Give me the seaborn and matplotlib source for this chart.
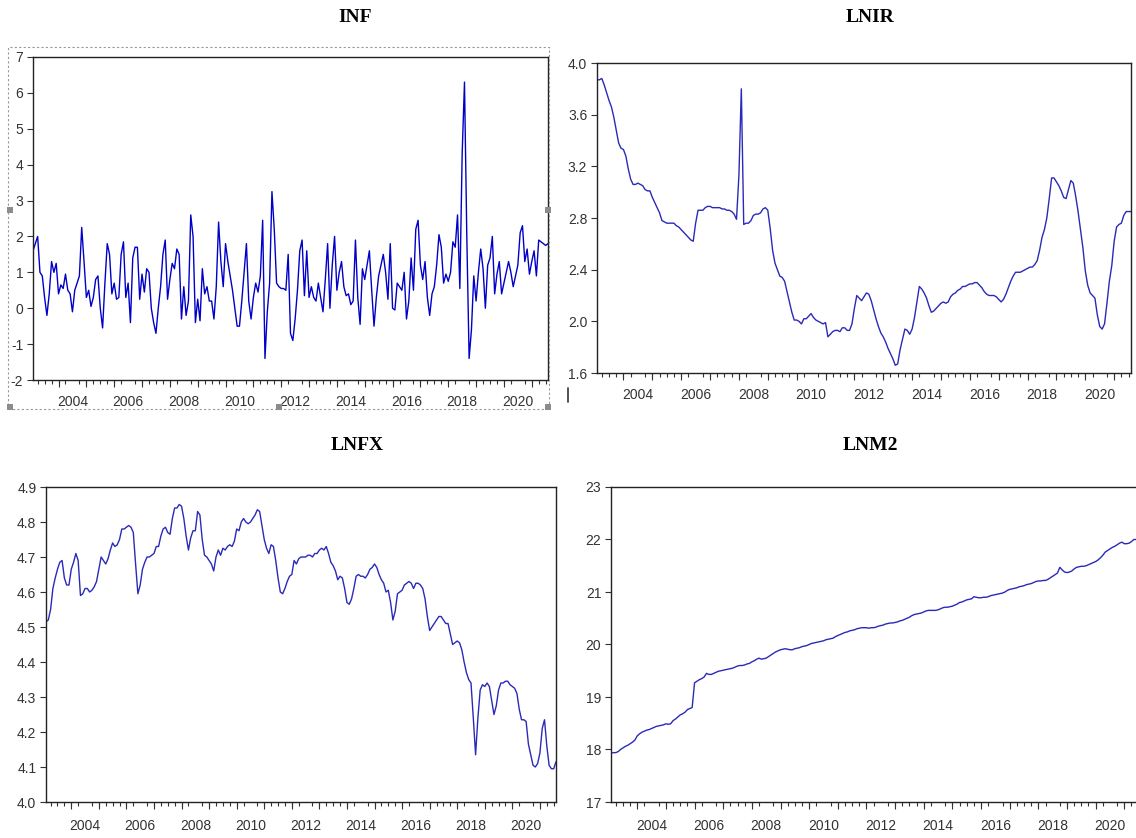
import numpy as np
import pandas as pd
import matplotlib
matplotlib.use('Agg')
import matplotlib.pyplot as plt
from matplotlib.patches import Rectangle
from matplotlib.lines import Line2D
from matplotlib.ticker import FixedLocator, NullFormatter
import seaborn as sns

# monthly observations, first one is 2003M2
start_year = 2003 + 1 / 12

inf = [1.6, 1.8, 2.0, 1.0, 0.9, 0.3, -0.2, 0.4, 1.3, 1.0, 1.25,
       0.4, 0.65, 0.55, 0.95, 0.5, 0.4, -0.1, 0.5, 0.7, 0.9, 2.25, 1.3,
       0.3, 0.5, 0.05, 0.3, 0.8, 0.9, 0.0, -0.55, 0.7, 1.8, 1.5, 0.4,
       0.7, 0.25, 0.3, 1.5, 1.85, 0.3, 0.7, -0.4, 1.4, 1.7, 1.7, 0.25,
       0.95, 0.45, 1.1, 1.0, 0.0, -0.4, -0.7, 0.0, 0.6, 1.5, 1.9, 0.25,
       0.8, 1.25, 1.1, 1.65, 1.5, -0.3, 0.6, -0.2, 0.2, 2.6, 2.0, -0.4,
       0.25, -0.35, 1.1, 0.4, 0.6, 0.2, 0.2, -0.3, 0.6, 2.4, 1.3, 0.6,
       1.8, 1.3, 0.9, 0.5, 0.0, -0.5, -0.5, 0.2, 1.0, 1.8, 0.2, -0.3,
       0.3, 0.7, 0.45, 0.9, 2.45, -1.4, -0.1, 0.7, 3.25, 2.2, 0.7, 0.6,
       0.55, 0.55, 0.5, 1.5, -0.7, -0.9, -0.3, 0.5, 1.6, 1.9, 0.35, 1.6,
       0.3, 0.6, 0.3, 0.2, 0.7, 0.3, -0.1, 0.8, 1.8, 0.0, 1.2, 2.0,
       0.5, 1.0, 1.3, 0.6, 0.35, 0.4, 0.1, 0.2, 1.9, 0.3, -0.45, 1.1,
       0.8, 1.2, 1.6, 0.5, -0.5, 0.3, 0.9, 1.2, 1.5, 1.0, 0.25, 1.8,
       0.0, -0.05, 0.7, 0.6, 0.5, 1.0, -0.3, 0.2, 1.4, 0.5, 2.2, 2.45,
       1.2, 0.8, 1.3, 0.3, -0.2, 0.4, 0.6, 1.2, 2.05, 1.7, 0.7, 0.95,
       0.75, 1.0, 1.85, 1.7, 2.6, 0.55, 4.3, 6.3, 2.0, -1.4, -0.6, 0.9,
       0.2, 1.0, 1.65, 1.1, 0.0, 1.2, 1.4, 2.0, 0.4, 0.95, 1.3, 0.4,
       0.7, 1.0, 1.3, 1.0, 0.6, 0.9, 1.2, 2.1, 2.3, 1.3, 1.65, 0.95,
       1.3, 1.6, 0.9, 1.9, 1.85, 1.8, 1.75, 1.8]

lnir = [3.87, 3.87, 3.88, 3.83, 3.77, 3.71, 3.66, 3.58, 3.48, 3.38, 3.34,
        3.33, 3.28, 3.18, 3.10, 3.06, 3.06, 3.07, 3.06, 3.05, 3.02, 3.01, 3.01,
        2.96, 2.92, 2.88, 2.84, 2.78, 2.77, 2.76, 2.76, 2.76, 2.76, 2.74, 2.73,
        2.71, 2.69, 2.67, 2.65, 2.63, 2.62, 2.76, 2.86, 2.86, 2.86, 2.88, 2.89,
        2.89, 2.88, 2.88, 2.88, 2.88, 2.87, 2.87, 2.86, 2.86, 2.85, 2.83, 2.79,
        3.13, 3.80, 2.75, 2.76, 2.76, 2.78, 2.82, 2.83, 2.83, 2.84, 2.87, 2.88,
        2.86, 2.72, 2.55, 2.45, 2.40, 2.35, 2.34, 2.31, 2.23, 2.15, 2.07, 2.01,
        2.01, 2.00, 1.98, 2.02, 2.02, 2.04, 2.06, 2.03, 2.01, 2.00, 1.99, 1.98,
        1.99, 1.88, 1.90, 1.92, 1.93, 1.93, 1.92, 1.95, 1.95, 1.93, 1.93, 1.98,
        2.10, 2.20, 2.18, 2.16, 2.19, 2.22, 2.21, 2.16, 2.09, 2.02, 1.96, 1.91,
        1.88, 1.84, 1.79, 1.75, 1.71, 1.66, 1.67, 1.78, 1.86, 1.94, 1.93, 1.90,
        1.94, 2.03, 2.15, 2.27, 2.25, 2.22, 2.18, 2.12, 2.07, 2.08, 2.10, 2.12,
        2.14, 2.15, 2.14, 2.15, 2.19, 2.21, 2.22, 2.24, 2.25, 2.27, 2.27, 2.28,
        2.29, 2.29, 2.30, 2.30, 2.28, 2.26, 2.23, 2.21, 2.20, 2.20, 2.20, 2.19,
        2.17, 2.15, 2.17, 2.21, 2.26, 2.31, 2.35, 2.38, 2.38, 2.38, 2.39, 2.40,
        2.41, 2.42, 2.42, 2.44, 2.47, 2.55, 2.65, 2.71, 2.80, 2.95, 3.11, 3.11,
        3.08, 3.05, 3.01, 2.96, 2.95, 3.02, 3.09, 3.07, 2.97, 2.85, 2.71, 2.57,
        2.39, 2.28, 2.22, 2.20, 2.18, 2.05, 1.96, 1.94, 1.98, 2.14, 2.31, 2.43,
        2.62, 2.73, 2.75, 2.76, 2.82, 2.85, 2.85, 2.85]

lnfx = [4.515, 4.52, 4.55, 4.61, 4.64, 4.665, 4.685, 4.69, 4.64, 4.62, 4.62,
        4.665, 4.685, 4.71, 4.69, 4.59, 4.595, 4.61, 4.61, 4.60, 4.605, 4.615, 4.63,
        4.665, 4.70, 4.69, 4.68, 4.695, 4.72, 4.74, 4.73, 4.735, 4.75, 4.78, 4.78,
        4.785, 4.79, 4.785, 4.77, 4.68, 4.595, 4.62, 4.665, 4.685, 4.70, 4.70, 4.705,
        4.71, 4.73, 4.73, 4.76, 4.78, 4.785, 4.77, 4.765, 4.81, 4.84, 4.84, 4.85,
        4.845, 4.81, 4.76, 4.72, 4.755, 4.775, 4.775, 4.83, 4.82, 4.75, 4.705, 4.70,
        4.69, 4.68, 4.66, 4.70, 4.72, 4.705, 4.725, 4.72, 4.73, 4.735, 4.73, 4.745,
        4.78, 4.775, 4.80, 4.81, 4.80, 4.795, 4.80, 4.81, 4.82, 4.835, 4.83, 4.79,
        4.75, 4.725, 4.71, 4.735, 4.73, 4.69, 4.64, 4.60, 4.595, 4.61, 4.63, 4.645,
        4.65, 4.69, 4.68, 4.695, 4.70, 4.70, 4.70, 4.705, 4.705, 4.70, 4.71, 4.71,
        4.72, 4.725, 4.72, 4.73, 4.71, 4.685, 4.675, 4.66, 4.635, 4.645, 4.64, 4.61,
        4.57, 4.565, 4.58, 4.61, 4.645, 4.65, 4.645, 4.645, 4.64, 4.65, 4.665, 4.67,
        4.68, 4.67, 4.65, 4.635, 4.625, 4.60, 4.605, 4.57, 4.52, 4.545, 4.595, 4.60,
        4.605, 4.62, 4.625, 4.63, 4.625, 4.61, 4.625, 4.625, 4.62, 4.61, 4.58, 4.53,
        4.49, 4.50, 4.51, 4.52, 4.53, 4.53, 4.52, 4.51, 4.51, 4.48, 4.45, 4.455,
        4.46, 4.455, 4.435, 4.40, 4.37, 4.35, 4.34, 4.24, 4.135, 4.24, 4.32, 4.335,
        4.33, 4.34, 4.33, 4.29, 4.25, 4.275, 4.32, 4.34, 4.34, 4.345, 4.345, 4.335,
        4.33, 4.325, 4.31, 4.265, 4.235, 4.235, 4.23, 4.165, 4.135, 4.105, 4.10, 4.11,
        4.14, 4.21, 4.235, 4.16, 4.105, 4.095, 4.095, 4.115]

lnm2 = [17.93, 17.94, 17.94, 17.96, 18.00, 18.03, 18.06, 18.08, 18.11, 18.14, 18.18,
        18.26, 18.30, 18.33, 18.35, 18.37, 18.38, 18.40, 18.42, 18.44, 18.45, 18.46, 18.47,
        18.49, 18.48, 18.49, 18.55, 18.58, 18.62, 18.66, 18.68, 18.71, 18.76, 18.78, 18.80,
        19.27, 19.30, 19.33, 19.35, 19.38, 19.45, 19.43, 19.43, 19.45, 19.47, 19.49, 19.50,
        19.51, 19.52, 19.53, 19.54, 19.55, 19.57, 19.59, 19.60, 19.60, 19.61, 19.63, 19.64,
        19.67, 19.69, 19.72, 19.74, 19.72, 19.73, 19.74, 19.77, 19.80, 19.83, 19.86, 19.88,
        19.90, 19.91, 19.92, 19.91, 19.90, 19.90, 19.92, 19.93, 19.94, 19.96, 19.97, 19.98,
        20.00, 20.02, 20.03, 20.04, 20.05, 20.06, 20.07, 20.09, 20.10, 20.11, 20.12, 20.15,
        20.17, 20.19, 20.21, 20.23, 20.24, 20.26, 20.27, 20.28, 20.30, 20.31, 20.32, 20.32,
        20.32, 20.31, 20.32, 20.32, 20.33, 20.35, 20.36, 20.37, 20.39, 20.40, 20.41, 20.41,
        20.42, 20.43, 20.45, 20.46, 20.48, 20.50, 20.52, 20.55, 20.57, 20.58, 20.59, 20.60,
        20.62, 20.64, 20.65, 20.65, 20.65, 20.65, 20.66, 20.68, 20.70, 20.71, 20.71, 20.72,
        20.73, 20.75, 20.77, 20.80, 20.81, 20.83, 20.85, 20.86, 20.87, 20.91, 20.90, 20.89,
        20.89, 20.90, 20.90, 20.91, 20.93, 20.94, 20.95, 20.96, 20.97, 20.98, 21.00, 21.03,
        21.05, 21.06, 21.07, 21.08, 21.10, 21.11, 21.12, 21.14, 21.15, 21.16, 21.18, 21.20,
        21.21, 21.21, 21.22, 21.22, 21.24, 21.27, 21.30, 21.33, 21.36, 21.47, 21.42, 21.38,
        21.37, 21.38, 21.40, 21.44, 21.47, 21.48, 21.49, 21.49, 21.50, 21.52, 21.54, 21.56,
        21.58, 21.61, 21.65, 21.70, 21.76, 21.79, 21.82, 21.85, 21.87, 21.90, 21.93, 21.95,
        21.92, 21.92, 21.93, 21.96, 22.00, 22.00, 22.01, 22.02]

year_labels = [2004, 2006, 2008, 2010, 2012, 2014, 2016, 2018, 2020]
inf_ticks = [-2, -1, 0, 1, 2, 3, 4, 5, 6, 7]
lnir_ticks = [1.6, 2.0, 2.4, 2.8, 3.2, 3.6, 4.0]
lnfx_ticks = [4.0, 4.1, 4.2, 4.3, 4.4, 4.5, 4.6, 4.7, 4.8, 4.9]
lnm2_ticks = [17, 18, 19, 20, 21, 22, 23]

sns.set_theme(style="white")
plt.rcParams['font.family'] = ['Liberation Sans', 'DejaVu Sans']
plt.rcParams['axes.unicode_minus'] = False

W, H = 1136, 838
fig = plt.figure(figsize=(W / 100, H / 100), dpi=100)
fig.patch.set_facecolor('white')


def px_axes(left, top, right, bottom):
    return fig.add_axes([left / W, 1 - bottom / H, (right - left) / W, (bottom - top) / H])


n = len(lnir)
x_end = start_year + (n - 1) / 12


def draw_panel(ax, values, yticks, fmt, color, xpad):
    x = start_year + np.arange(len(values)) / 12
    df = pd.DataFrame({'date': x, 'value': values})
    sns.lineplot(data=df, x='date', y='value', ax=ax, color=color, linewidth=1.0)
    ax.set_xlim(start_year, x_end)
    ax.set_ylim(yticks[0], yticks[-1])
    ax.set_xlabel('')
    ax.set_ylabel('')
    ax.set_yticks(yticks)
    ax.set_yticklabels([fmt.format(t) for t in yticks])
    # year labels centred between year ticks
    ax.set_xticks([y + 0.5 for y in year_labels])
    ax.set_xticklabels([str(y) for y in year_labels])
    quarters = np.arange(2003, 2022.01, 0.25)
    quarters = quarters[(quarters >= start_year) & (quarters <= x_end)]
    ax.xaxis.set_minor_locator(FixedLocator(quarters))
    ax.tick_params(axis='x', which='major', length=0, pad=xpad, labelsize=10, labelcolor='#333333')
    ax.tick_params(axis='x', which='minor', length=3, width=0.8, color='#333333', bottom=True)
    ax.tick_params(axis='y', which='major', length=4, width=0.8, color='#333333', left=True,
                   pad=3, labelsize=10, labelcolor='#333333')
    # long ticks at the start of every year
    sec = ax.secondary_xaxis('bottom')
    years = [y for y in range(2003, 2023) if start_year <= y <= x_end]
    sec.set_xticks(years)
    sec.xaxis.set_major_formatter(NullFormatter())
    sec.tick_params(length=5, width=0.8, color='#333333')
    sec.spines['bottom'].set_visible(False)
    for s in ax.spines.values():
        s.set_color('#222222')
        s.set_linewidth(1.0)
        s.set_visible(True)


ax1 = px_axes(33, 57, 548, 380)
draw_panel(ax1, inf, inf_ticks, '{:d}', '#0000c8', 11)
ax2 = px_axes(597, 63, 1131, 373)
draw_panel(ax2, lnir, lnir_ticks, '{:.1f}', '#2a2ab8', 11)
ax3 = px_axes(46, 487, 556, 802)
draw_panel(ax3, lnfx, lnfx_ticks, '{:.1f}', '#2a2ab8', 12)
ax4 = px_axes(611, 487, 1141, 802)
draw_panel(ax4, lnm2, lnm2_ticks, '{:d}', '#2a2ab8', 12)

title_kw = dict(fontsize=14, fontweight='bold', family=['Liberation Serif', 'DejaVu Serif'],
                ha='center', va='center', color='black')
fig.text(355 / W, 1 - 18 / H, 'INF', **title_kw)
fig.text(870 / W, 1 - 18 / H, 'LNIR', **title_kw)
fig.text(357 / W, 1 - 446 / H, 'LNFX', **title_kw)
fig.text(870 / W, 1 - 446 / H, 'LNM2', **title_kw)

# dashed selection frame around the first graph
fig.patches.append(Rectangle((8 / W, 1 - 409 / H), (549 - 8) / W, (409 - 47) / H,
                             transform=fig.transFigure, fill=False, edgecolor='#999999',
                             linestyle=(0, (2, 2)), linewidth=0.8))
for hx, hy in [(10, 210), (548, 210), (10, 407), (279, 407), (548, 407)]:
    fig.patches.append(Rectangle(((hx - 3) / W, 1 - (hy + 3) / H), 6 / W, 6 / H,
                                 transform=fig.transFigure, facecolor='#8c8c8c',
                                 edgecolor='none'))

# small stray cursor mark
fig.lines.append(Line2D([568 / W, 568 / W], [1 - 388 / H, 1 - 402 / H],
                        transform=fig.transFigure, color='#333333', linewidth=1.2))

fig.savefig('out.png', dpi=100, facecolor='white')
